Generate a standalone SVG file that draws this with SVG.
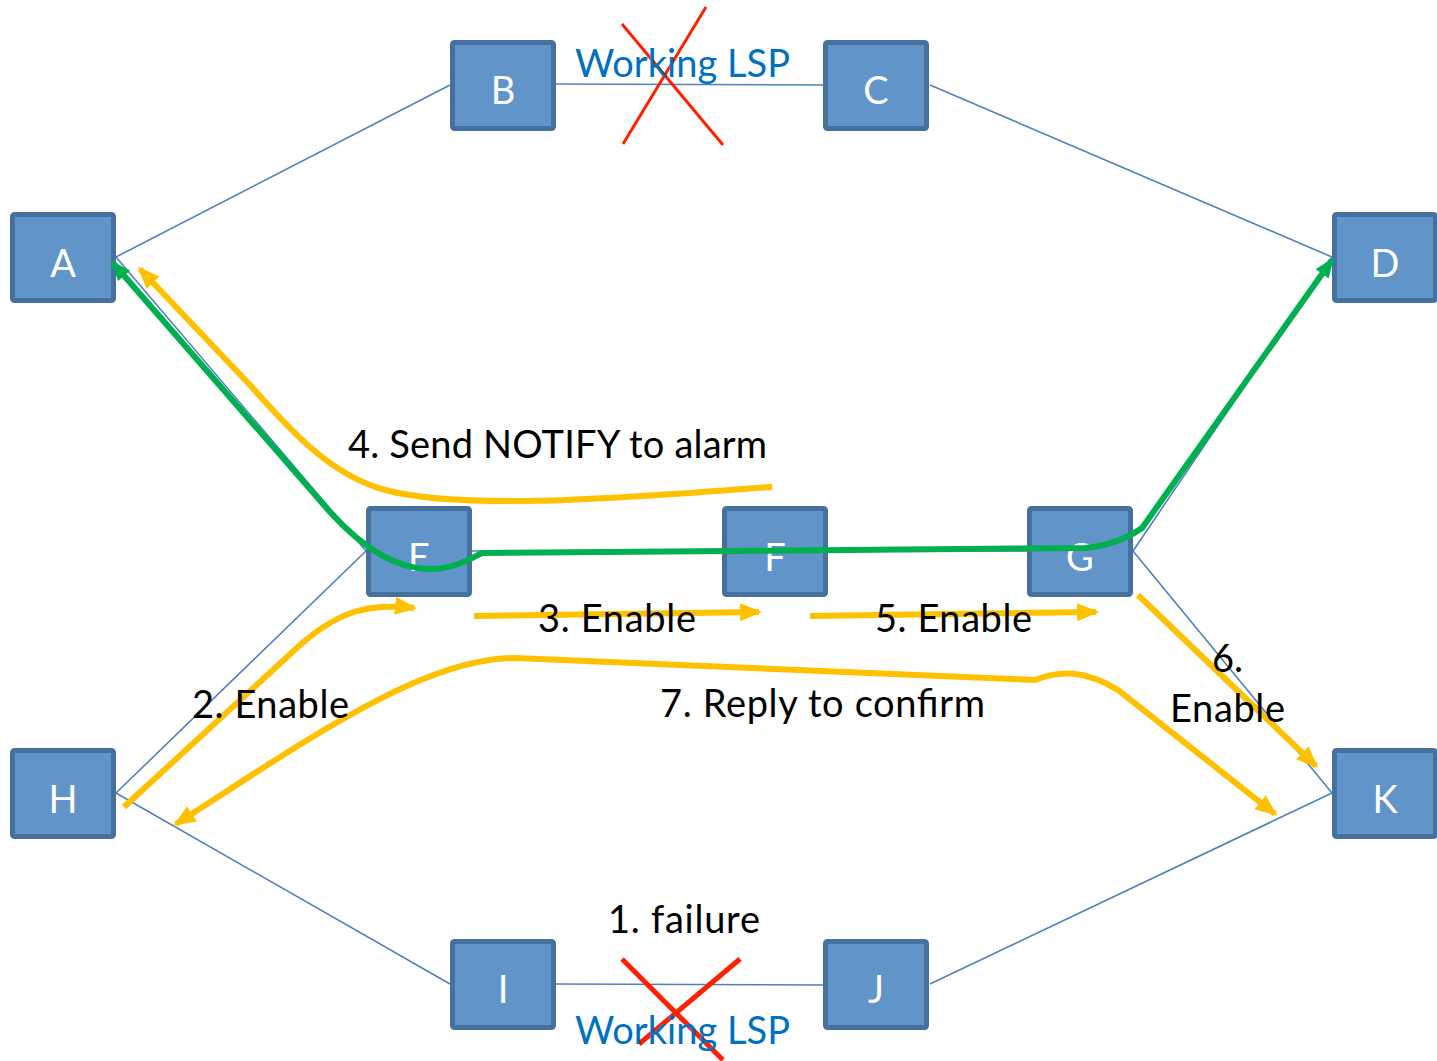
<svg xmlns="http://www.w3.org/2000/svg" width="1437" height="1061" viewBox="0 0 1437 1061">
<defs>
<style>
.node rect{fill:#6194C8;stroke:#46709D;stroke-width:5}
.node text{fill:#fff;font-family:Lato,"Open Sans",sans-serif;font-size:38px;text-anchor:middle}
.edge{stroke:#4F81BD;stroke-width:1.6;fill:none}
.y{stroke:#FFC000;stroke-width:6;fill:none}
.g{stroke:#00B050;stroke-width:6;fill:none}
.x{stroke:#FF2000;fill:none}
.lbl{fill:#000;font-family:Lato,"Open Sans",sans-serif;font-size:38px}
.lsp{fill:#0070C0;font-family:Lato,"Open Sans",sans-serif;font-size:38px}
</style>
<marker id="ya" markerUnits="userSpaceOnUse" viewBox="0 0 22 18" refX="19" refY="9" markerWidth="22" markerHeight="18" orient="auto-start-reverse"><path d="M0,0L22,9L0,18z" fill="#FFC000"/></marker>
<marker id="ga" markerUnits="userSpaceOnUse" viewBox="0 0 20 16" refX="17" refY="8" markerWidth="20" markerHeight="16" orient="auto-start-reverse"><path d="M0,0L20,8L0,16z" fill="#00B050"/></marker>
</defs>
<g id="connectors">
<line class="edge" x1="116" y1="257" x2="450" y2="85"/>
<line class="edge" x1="556" y1="84" x2="823" y2="85"/>
<line class="edge" x1="930" y1="85" x2="1332" y2="257"/>
<line class="edge" x1="116" y1="257" x2="366" y2="551"/>
<line class="edge" x1="472" y1="551" x2="722" y2="551"/>
<line class="edge" x1="828" y1="551" x2="1027" y2="551"/>
<line class="edge" x1="1133" y1="551" x2="1332" y2="257"/>
<line class="edge" x1="1133" y1="551" x2="1332" y2="793"/>
<line class="edge" x1="116" y1="793" x2="366" y2="551"/>
<line class="edge" x1="116" y1="793" x2="450" y2="984"/>
<line class="edge" x1="556" y1="984" x2="823" y2="985"/>
<line class="edge" x1="930" y1="984" x2="1332" y2="793"/>
</g>
<g id="nodes">
<g id="A" class="node"><rect x="12.5" y="214.5" width="101" height="86" rx="2"/><text x="63" y="277">A</text></g>
<g id="B" class="node"><rect x="452.5" y="42.5" width="101" height="86" rx="2"/><text x="503" y="104">B</text></g>
<g id="C" class="node"><rect x="825.5" y="42.5" width="101" height="86" rx="2"/><text x="876" y="104">C</text></g>
<g id="D" class="node"><rect x="1334.5" y="214.5" width="101" height="86" rx="2"/><text x="1385" y="277">D</text></g>
<g id="E" class="node"><rect x="368.5" y="508.5" width="101" height="86" rx="2"/><text x="419" y="571">E</text></g>
<g id="F" class="node"><rect x="724.5" y="508.5" width="101" height="86" rx="2"/><text x="775" y="571">F</text></g>
<g id="G" class="node"><rect x="1029.5" y="508.5" width="101" height="86" rx="2"/><text x="1080" y="571">G</text></g>
<g id="H" class="node"><rect x="12.5" y="750.5" width="101" height="86" rx="2"/><text x="63" y="813">H</text></g>
<g id="K" class="node"><rect x="1334.5" y="750.5" width="101" height="86" rx="2"/><text x="1385" y="813">K</text></g>
<g id="I" class="node"><rect x="452.5" y="941.5" width="101" height="86" rx="2"/><text x="503" y="1003">I</text></g>
<g id="J" class="node"><rect x="825.5" y="941.5" width="101" height="86" rx="2"/><text x="876" y="1003">J</text></g>
</g>
<g id="signals">
<path class="g" d="M113,263 L330,512 C360,545 395,570 432,569 C455,568 468,560 482,553 L1085,548 C1105,546 1125,540 1142,528 L1332,260" marker-start="url(#ga)" marker-end="url(#ga)"/>
<path class="y" d="M772,487 C640,496 470,512 385,490 C330,475 290,430 250,385 L140,269" marker-end="url(#ya)"/>
<path class="y" d="M124,807 L300,645 C340,610 370,603 414,608" marker-end="url(#ya)"/>
<path class="y" d="M474,616 L759,612" marker-end="url(#ya)"/>
<path class="y" d="M810,616 L1096,612" marker-end="url(#ya)"/>
<path class="y" d="M1138,595 L1316,766" marker-end="url(#ya)"/>
<path class="y" d="M176,824 C300,745 420,658 515,658 L1035,680 C1060,670 1085,670 1118,690 L1275,814" marker-start="url(#ya)" marker-end="url(#ya)"/>
</g>
<g id="failures">
<line class="x" stroke-width="3" x1="622" y1="24" x2="723" y2="145"/>
<line class="x" stroke-width="3" x1="706" y1="7" x2="623" y2="144"/>
<line class="x" stroke-width="5" x1="622" y1="959" x2="723" y2="1060"/>
<line class="x" stroke-width="5" x1="740" y1="959" x2="639" y2="1044"/>
</g>
<g id="labels">
<text class="lsp" x="575" y="77" textLength="215">Working LSP</text>
<text class="lsp" x="575" y="1044" textLength="215">Working LSP</text>
<text class="lbl" x="348" y="458" textLength="419">4. Send NOTIFY to alarm</text>
<text class="lbl" x="538" y="632" textLength="158">3. Enable</text>
<text class="lbl" x="875" y="632" textLength="157">5. Enable</text>
<text class="lbl" x="192" y="718" textLength="157">2. Enable</text>
<text class="lbl" x="660" y="717" textLength="325">7. Reply to confirm</text>
<text class="lbl" x="1212" y="672">6.</text>
<text class="lbl" x="1170" y="722" textLength="115">Enable</text>
<text class="lbl" x="608" y="933" textLength="152">1. failure</text>
</g>
</svg>
